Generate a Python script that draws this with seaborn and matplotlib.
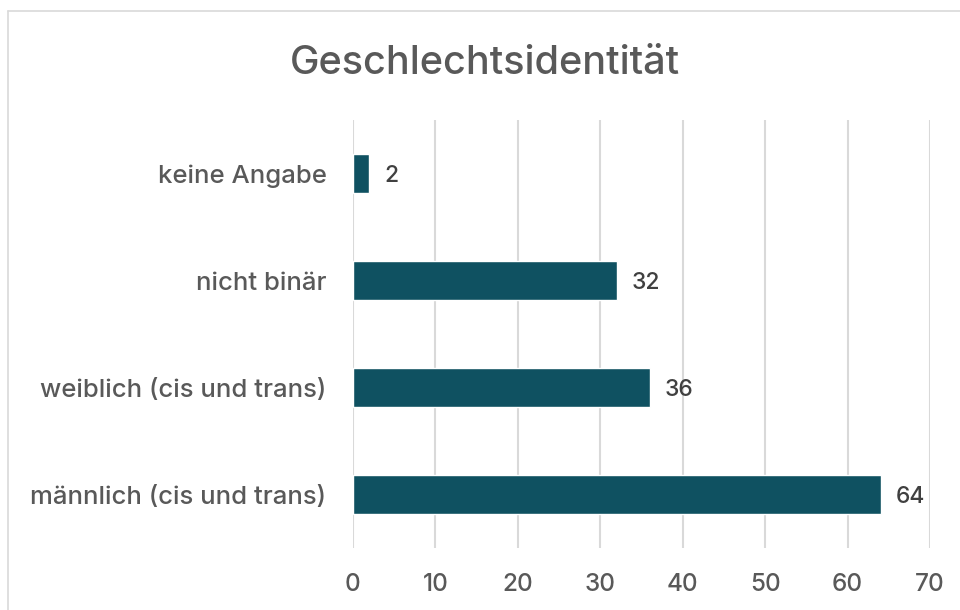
import matplotlib.pyplot as plt
import pandas as pd
import seaborn as sns
from matplotlib.lines import Line2D

categories = ["keine Angabe", "nicht binär", "weiblich (cis und trans)", "männlich (cis und trans)"]
counts = [2, 32, 36, 64]
x_ticks = [0, 10, 20, 30, 40, 50, 60, 70]
title = "Geschlechtsidentität"

bar_color = "#0f5161"
text_color = "#595959"
grid_color = "#d9d9d9"

sns.set_theme(style="white")
plt.rcParams["font.family"] = ["Inter", "DejaVu Sans"]

frame = pd.DataFrame({"category": categories, "count": counts})

figure = plt.figure(figsize=(9.6, 6.1), dpi=100)
axis = figure.add_axes([0.3677, 0.1016, 0.6011, 0.7017])

sns.barplot(
    data=frame,
    x="count",
    y="category",
    order=categories,
    color=bar_color,
    saturation=1,
    width=0.36,
    ax=axis,
    zorder=3,
)

for patch, value in zip(axis.patches, counts):
    y_mid = patch.get_y() + patch.get_height() / 2
    axis.annotate(
        str(value),
        xy=(patch.get_width(), y_mid),
        xytext=(11, -2),
        textcoords="offset points",
        ha="left",
        va="center",
        fontsize=16.5,
        weight="medium",
        color="#404040",
    )

axis.set_xlim(0, 70)
axis.set_ylim(3.5, -0.5)
axis.set_xticks(x_ticks)
axis.set_xticklabels([str(t) for t in x_ticks], fontsize=17.5, color=text_color, weight="medium")
axis.tick_params(axis="x", length=0, pad=18)
axis.tick_params(axis="y", length=0, pad=19)
for label in axis.get_yticklabels():
    label.set_fontsize(18.5)
    label.set_color(text_color)
    label.set_fontweight("medium")
axis.set_xlabel("")
axis.set_ylabel("")
axis.grid(axis="x", color=grid_color, linewidth=1.5, zorder=0)
axis.set_axisbelow(True)
sns.despine(ax=axis, left=True, bottom=True)

figure.text(0.505, 0.896, title, ha="center", va="center", fontsize=28.5, color=text_color, weight="medium")

# light frame around the chart area (only left and top edges visible)
figure.add_artist(Line2D([8 / 960, 8 / 960], [0, 1 - 11 / 610], transform=figure.transFigure, color=grid_color, linewidth=1.2))
figure.add_artist(Line2D([8 / 960, 1], [1 - 11 / 610, 1 - 11 / 610], transform=figure.transFigure, color=grid_color, linewidth=1.2))

figure.savefig("out.png", dpi=100)
plt.close(figure)
